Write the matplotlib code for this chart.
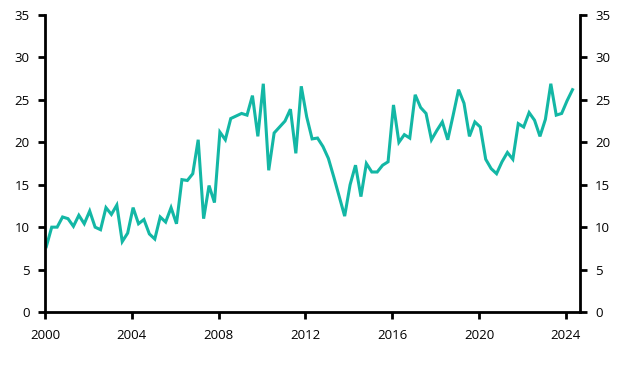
import numpy as np
import matplotlib.pyplot as plt

# quarterly values, 2000 Q1 .. 2024 Q2
values = [
    7.7, 10.0, 10.0, 11.2, 11.0, 10.1, 11.4, 10.4, 11.9, 10.0,
    9.7, 12.3, 11.5, 12.6, 8.3, 9.3, 12.3, 10.4, 10.9, 9.2,
    8.6, 11.2, 10.6, 12.3, 10.4, 15.6, 15.5, 16.3, 20.3, 11.0,
    14.9, 12.9, 21.2, 20.3, 22.8, 23.1, 23.4, 23.2, 25.5, 20.7,
    26.9, 16.7, 21.1, 21.8, 22.5, 23.9, 18.7, 26.6, 23.0, 20.4,
    20.5, 19.5, 18.1, 15.9, 13.6, 11.3, 15.0, 17.3, 13.6, 17.5,
    16.5, 16.5, 17.3, 17.7, 24.4, 20.0, 20.9, 20.5, 25.6, 24.1,
    23.4, 20.3, 21.4, 22.4, 20.3, 23.2, 26.2, 24.6, 20.7, 22.4,
    21.8, 18.0, 16.9, 16.3, 17.7, 18.8, 18.0, 22.2, 21.8, 23.5,
    22.6, 20.7, 22.7, 26.9, 23.2, 23.4, 24.9, 26.2,
]
dates = 2000 + np.arange(len(values)) * 0.25 + 0.06

x_ticks = [2000, 2004, 2008, 2012, 2016, 2020, 2024]
y_ticks = [0, 5, 10, 15, 20, 25, 30, 35]

plt.rcParams['font.family'] = ['Open Sans', 'DejaVu Sans']

fig = plt.figure(figsize=(6.31, 3.66), dpi=100)
ax = fig.add_axes([0.0713, 0.1475, 0.8477, 0.8115])

ax.plot(dates, values, color='#13b7a5', linewidth=2.2, solid_joinstyle='miter')

ax.set_xlim(2000, 2024.65)
ax.set_ylim(0, 35)
ax.set_xticks(x_ticks)
ax.set_yticks(y_ticks)

ax.spines['top'].set_visible(False)
for s in ['left', 'right', 'bottom']:
    ax.spines[s].set_linewidth(2)
    ax.spines[s].set_color('black')

ax.tick_params(axis='both', direction='out', length=5, width=2, labelsize=9.5,
               colors='black')
ax.tick_params(axis='y', left=True, right=True, labelleft=True, labelright=True, pad=6)
ax.tick_params(axis='x', pad=7)

fig.savefig('out.png', dpi=100)
